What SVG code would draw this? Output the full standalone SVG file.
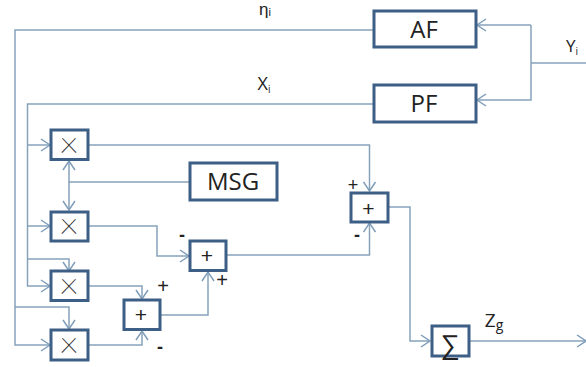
<svg xmlns="http://www.w3.org/2000/svg" width="586" height="367" viewBox="0 0 586 367">
<style>
.b{fill:#fff;stroke:#3d5f86;stroke-width:3}
.c{fill:none;stroke:#86a2bb;stroke-width:1.500}
.t{font-family:"Open Sans","Liberation Sans",sans-serif;fill:#222;text-anchor:middle}
.s{font-family:"Liberation Sans",sans-serif;fill:#222;text-anchor:middle}
.m{font-family:"Liberation Sans",sans-serif;fill:#222;text-anchor:middle;font-size:18px;font-weight:bold}
.x{font-family:Roboto,"Liberation Sans",sans-serif;font-weight:100;fill:#333;text-anchor:middle;font-size:36px}
</style>
<defs>
<marker id="a" markerUnits="userSpaceOnUse" markerWidth="14" markerHeight="14" refX="11" refY="7" orient="auto">
<path d="M2 1L11 7L2 13" fill="none" stroke="#7f9db9" stroke-width="1.500"/>
</marker>
</defs>
<rect width="586" height="367" fill="#fff"/>
<g id="connectors">
<path class="c" d="M373 30H15V345H50" marker-end="url(#a)"/>
<path class="c" d="M373 104H27.500V286H50" marker-end="url(#a)"/>
<path class="c" d="M27.500 145H50" marker-end="url(#a)"/>
<path class="c" d="M27.500 226H50" marker-end="url(#a)"/>
<path class="c" d="M27.500 259H69V271" marker-end="url(#a)"/>
<path class="c" d="M15 307H69V329" marker-end="url(#a)"/>
<path class="c" d="M190 182H69V161" marker-end="url(#a)"/>
<path class="c" d="M69 182V210" marker-end="url(#a)"/>
<path class="c" d="M88 145H369.500V191" marker-end="url(#a)"/>
<path class="c" d="M88 226H157V256H189" marker-end="url(#a)"/>
<path class="c" d="M88 286H142V299" marker-end="url(#a)"/>
<path class="c" d="M88 345H142V331" marker-end="url(#a)"/>
<path class="c" d="M161 315H208V272" marker-end="url(#a)"/>
<path class="c" d="M227 255H369.500V223" marker-end="url(#a)"/>
<path class="c" d="M389 207H410V341H430" marker-end="url(#a)"/>
<path class="c" d="M469 341H586" marker-end="url(#a)"/>
<path class="c" d="M586 63H531"/>
<path class="c" d="M531 25V100H477" marker-end="url(#a)"/>
<path class="c" d="M531 25H477" marker-end="url(#a)"/>
</g>
<g id="af"><rect class="b" x="374" y="11" width="102" height="36"/><text class="t" x="424" y="38" font-size="24">AF</text></g>
<g id="pf"><rect class="b" x="374" y="85" width="102" height="37"/><text class="t" x="424" y="112" font-size="24">PF</text></g>
<g id="msg"><rect class="b" x="190" y="163" width="87" height="37"/><text class="t" x="233" y="190" font-size="24">MSG</text></g>
<g id="x1"><rect class="b" x="51" y="130" width="37" height="29.500"/><text class="x" x="69" y="152.500">×</text></g>
<g id="x2"><rect class="b" x="51" y="212" width="37" height="29"/><text class="x" x="69" y="233.500">×</text></g>
<g id="x3"><rect class="b" x="51" y="271" width="37" height="29.500"/><text class="x" x="69" y="293.500">×</text></g>
<g id="x4"><rect class="b" x="51" y="330" width="37" height="30"/><text class="x" x="69" y="352.500">×</text></g>
<g id="add-a"><rect class="b" x="190" y="241" width="36" height="29.500"/><text class="s" x="207" y="263" font-size="21">+</text></g>
<g id="add-b"><rect class="b" x="124" y="300" width="36" height="29.500"/><text class="s" x="141" y="322" font-size="21">+</text></g>
<g id="add-c"><rect class="b" x="351" y="193" width="37" height="29"/><text class="s" x="368.500" y="216" font-size="21">+</text></g>
<g id="sum"><rect class="b" x="432" y="326" width="37" height="30"/><text class="s" x="450" y="354" font-size="27">∑</text></g>
<g id="labels">
<text class="s" x="265" y="15" font-size="17">η<tspan font-size="11" dy="1">i</tspan></text>
<text class="t" x="264" y="90" font-size="18">X<tspan font-size="10" dy="3">i</tspan></text>
<text class="t" x="572" y="52" font-size="17">Y<tspan font-size="10" dy="3">i</tspan></text>
<text class="t" x="494" y="327" font-size="19">Z<tspan font-size="14" dy="3">g</tspan></text>
<text class="s" x="353" y="191" font-size="18">+</text>
<text class="m" x="357" y="241">-</text>
<text class="m" x="182" y="241">-</text>
<text class="s" x="222" y="287" font-size="20">+</text>
<text class="s" x="163" y="293" font-size="20">+</text>
<text class="m" x="160" y="353">-</text>
</g>
</svg>
